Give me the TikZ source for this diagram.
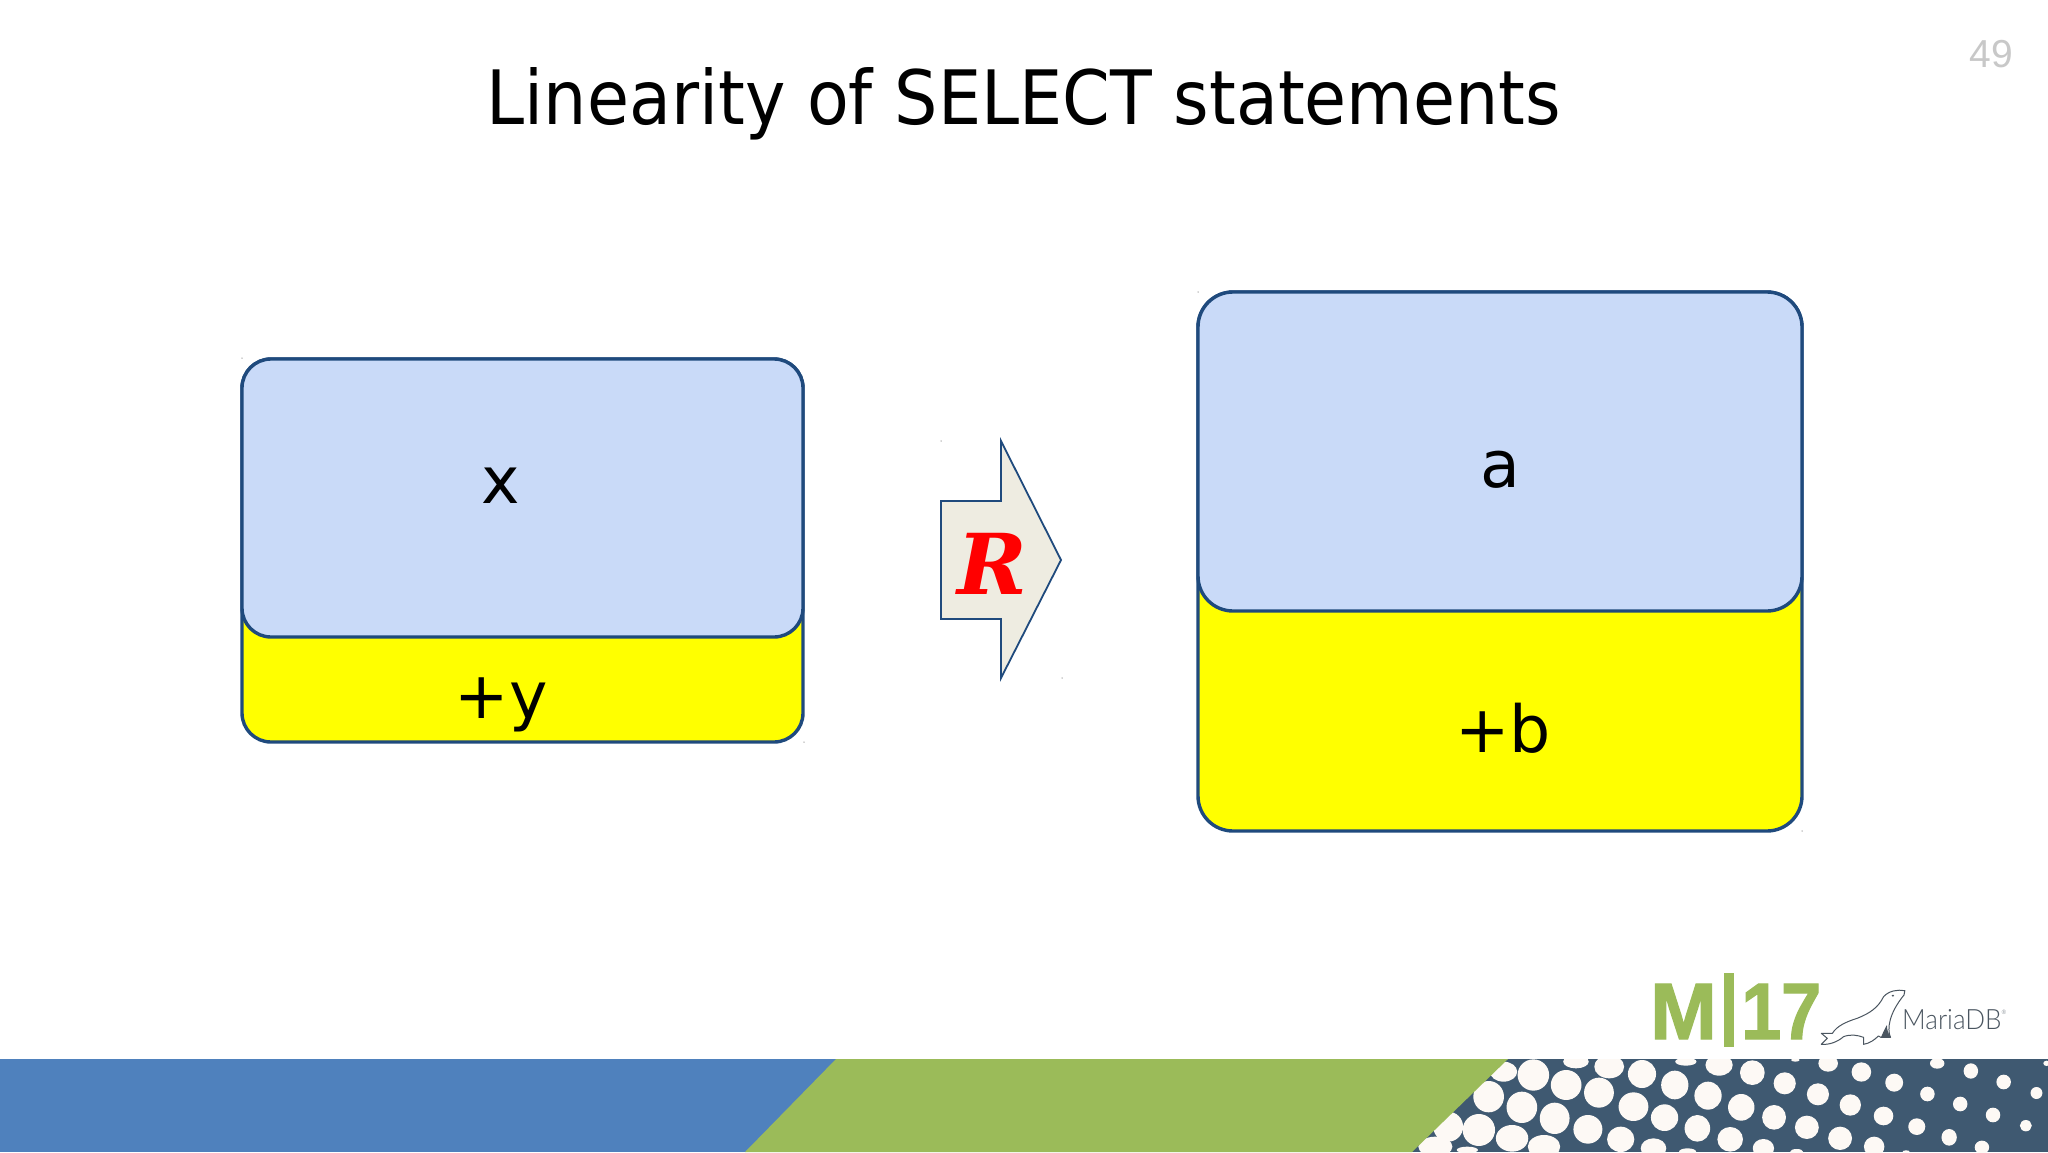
\documentclass[tikz,border=0pt]{standalone}
\usepackage{fontspec}
\setmainfont{DejaVu Sans}
\newfontfamily\numfont{Liberation Sans}
\newfontfamily\courfont{DejaVu Serif}
\newfontfamily\logofont{Liberation Sans}[BoldFeatures={FakeBold=1.6}]
\newfontfamily\marfont{Lato Light}
\definecolor{boxblue}{HTML}{C9DAF8}
\definecolor{edgeblue}{HTML}{1F4A7D}
\definecolor{arrowfill}{HTML}{EEECE1}
\definecolor{bandblue}{HTML}{4F81BD}
\definecolor{bandgreen}{HTML}{9BBB59}
\definecolor{banddark}{HTML}{3F5971}
\definecolor{dotwhite}{HTML}{FDF9F5}
\definecolor{pagegrey}{HTML}{C8C8C8}
\definecolor{sealgrey}{HTML}{4A5560}
\definecolor{pureyellow}{HTML}{FFFF00}
\definecolor{purered}{HTML}{FF0000}
\tikzset{
  panel/.style={draw=edgeblue,line width=3.4pt,inner sep=0pt,outer sep=0pt,anchor=north west},
  boxlabel/.style={font=\fontsize{65}{65}\selectfont,text=black,inner sep=0pt},
  speck/.style={fill=gray!70,inner sep=0pt,minimum size=1.5pt,circle},
}
\begin{document}
\begin{tikzpicture}[x=1pt,y=-1pt]
\useasboundingbox (0,0) rectangle (2048,1152);
\fill[white] (0,0) rectangle (2048,1152);
% title and page number
\node[font=\fontsize{75}{75}\selectfont,anchor=base,xscale=.911,inner sep=0pt] (title) at (1024,124) {Linearity of SELECT statements};
\node[font=\numfont\fontsize{39}{39}\selectfont,text=pagegrey,anchor=base east,inner sep=0pt] (page) at (2013,67) {49};
% left boxes
\node[panel,rounded corners=29pt,fill=pureyellow,minimum width=561pt,minimum height=383pt] (ly) at (242,359) {};
\node[panel,rounded corners=29pt,fill=boxblue,minimum width=561pt,minimum height=278pt] (lx) at (242,359) {};
\node[boxlabel,anchor=base] (xlab) at (501,503) {x};
\node[boxlabel,anchor=base] (ylab) at (501,718) {+y};
% right boxes
\node[panel,rounded corners=35pt,fill=pureyellow,minimum width=604pt,minimum height=539pt] (ry) at (1198,292) {};
\node[panel,rounded corners=35pt,fill=boxblue,minimum width=604pt,minimum height=319pt] (rx) at (1198,292) {};
\node[boxlabel,anchor=base] (alab) at (1500,487) {a};
\node[boxlabel,anchor=base] (blab) at (1503,752) {+b};
% arrow
\draw[draw=edgeblue,line width=1.8pt,fill=arrowfill,line join=miter]
  (941,501) -- (1001,501) -- (1001,441) -- (1061,560) -- (1001,678) -- (1001,619) -- (941,619) -- cycle;
\node[font=\courfont\bfseries\itshape\fontsize{84}{84}\selectfont,text=purered,anchor=base,inner sep=0pt] (rlab) at (992,594) {R};
% specks
\node[speck] (s1) at (242,358) {};
\node[speck] (s2) at (804,742) {};
\node[speck] (s3) at (941,441) {};
\node[speck] (s4) at (1062,678) {};
\node[speck] (s5) at (1198,292) {};
\node[speck] (s6) at (1802,831) {};
% band
\fill[bandblue] (0,1059) rectangle (900,1152);
\fill[banddark] (1400,1059) rectangle (2048,1152);
\begin{scope}
\clip (1400,1059) rectangle (2048,1152);
\begin{scope}[shift={(1380,950)},xscale=.426,yscale=.3333]
\foreach \px/\py/\rx/\ry in {
 360/375/37/47,290/365/32/30,437/405/36/45,255/440/36/47,333/472/36/47,410/505/35/47,514/428/35/45,595/470/35/43,488/538/34/43,
 232/540/38/48,310/565/38/40,385/590/38/35,160/530/35/45,130/590/40/30,538/350/35/35,615/372/33/42,692/405/32/43,770/437/32/42,
 848/472/31/40,925/502/28/37,1002/532/28/35,1080/565/28/35,668/503/32/40,745/535/30/40,822/568/30/37,565/568/32/38,642/595/30/30,
 900/595/25/28,796/345/32/32,874/368/29/37,950/400/26/33,1028/433/26/33,1104/465/25/32,1182/498/23/28,1260/530/20/25,1336/562/18/25,
 1413/592/17/20,1052/340/23/25,1130/366/23/29,1207/398/21/27,1285/432/17/22,1362/462/17/22,1439/495/17/22,1516/527/14/17,
 1308/340/17/16,1387/363/17/23,1464/396/17/22,1541/429/14/18,460/335/30/20,718/335/25/12,975/330/10/5,1160/590/24/30,722/605/20/10,
 978/605/15/8,1565/340/8/8,205/600/25/10,1235/605/8/4}
  \fill[dotwhite] (\px,\py) ellipse [x radius=\rx, y radius=\ry];
\end{scope}
\end{scope}
\fill[bandgreen] (836,1059) -- (1508,1059) -- (1412,1152) -- (745,1152) -- cycle;
% logo
\node[font=\logofont\bfseries\fontsize{80}{80}\selectfont,text=bandgreen,anchor=base west,inner sep=0pt] (mlogo) at (1650,1039) {M};
\fill[bandgreen] (1724,973) rectangle (1734,1047);
\node[font=\logofont\bfseries\fontsize{80}{80}\selectfont,text=bandgreen,anchor=base west,inner sep=0pt,xscale=.9] (numlogo) at (1741,1039) {17};
\begin{scope}[shift={(1380,950)},xscale=.426,yscale=.3333]
\draw[sealgrey,line width=1pt,fill=white,line join=round]
  (1232,122) .. controls (1215,118) and (1195,122) .. (1182,140)
  .. controls (1170,172) and (1150,190) .. (1120,205)
  .. controls (1095,215) and (1072,228) .. (1062,250)
  -- (1036,250) -- (1050,265) -- (1036,283)
  .. controls (1055,285) and (1075,275) .. (1088,260)
  .. controls (1105,252) and (1120,255) .. (1135,262)
  -- (1135,283) .. controls (1150,280) and (1160,270) .. (1170,258)
  -- (1176,262) -- (1198,262)
  .. controls (1190,235) and (1195,190) .. (1230,135) -- cycle;
\fill[sealgrey] (1176,262) .. controls (1180,250) and (1185,235) .. (1190,225) .. controls (1190,240) and (1193,252) .. (1200,262) -- cycle;
\fill[sealgrey] (1204,137) circle [radius=3];
\end{scope}
\node[font=\marfont\fontsize{28}{28}\selectfont,text=sealgrey,anchor=base west,inner sep=0pt,xscale=.93] (maria) at (1902,1029) {MariaDB\raisebox{15pt}{\fontsize{6}{6}\selectfont ®}};
\end{tikzpicture}
\end{document}
